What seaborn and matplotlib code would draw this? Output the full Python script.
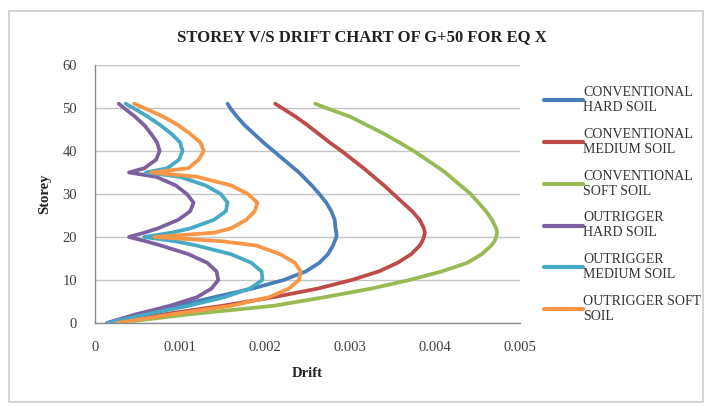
import matplotlib
matplotlib.use("Agg")
import matplotlib.pyplot as plt
from matplotlib.patches import Rectangle
import seaborn as sns
import pandas as pd

# Storey levels at which drift values are listed
storeys = [0, 2, 4, 6, 8, 10, 12, 14, 16, 18, 19, 20, 21, 22, 24, 26, 28, 30,
           32, 34, 35, 36, 38, 40, 42, 44, 46, 48, 50, 51]

conv_hard = [0.00015, 0.0005, 0.00098, 0.0014, 0.00185, 0.00222, 0.00248, 0.00264,
             0.00274, 0.0028, 0.00282, 0.00284, 0.00284, 0.00283, 0.00282, 0.00278,
             0.00272, 0.00264, 0.00255, 0.00245, 0.0024, 0.00234, 0.00222, 0.0021,
             0.00198, 0.00187, 0.00176, 0.00167, 0.00159, 0.00156]
conv_medium = [0.0002, 0.0008, 0.0015, 0.0021, 0.00262, 0.00302, 0.00334, 0.00356,
               0.00372, 0.00382, 0.00385, 0.00387, 0.00388, 0.00387, 0.00382, 0.00373,
               0.00362, 0.00351, 0.0034, 0.00328, 0.00322, 0.00316, 0.00303, 0.0029,
               0.00276, 0.00263, 0.0025, 0.00236, 0.0022, 0.00212]
conv_soft = [0.00025, 0.0011, 0.0021, 0.0027, 0.00325, 0.0037, 0.00408, 0.00438,
             0.00455, 0.00466, 0.0047, 0.00472, 0.00473, 0.00472, 0.00467, 0.0046,
             0.00451, 0.00442, 0.0043, 0.00418, 0.00412, 0.00405, 0.0039, 0.00375,
             0.00358, 0.0034, 0.0032, 0.003, 0.00272, 0.00259]
out_hard = [0.00014, 0.00048, 0.00088, 0.0012, 0.00137, 0.00145, 0.00143, 0.00132,
            0.0011, 0.00078, 0.0006, 0.0004, 0.00058, 0.00074, 0.00098, 0.00112,
            0.00116, 0.00108, 0.00095, 0.00072, 0.0004, 0.00058, 0.00072, 0.00076,
            0.00073, 0.00066, 0.00058, 0.00047, 0.00034, 0.00028]
out_medium = [0.00015, 0.0006, 0.0011, 0.00152, 0.00182, 0.00197, 0.00196, 0.00184,
              0.0016, 0.0012, 0.00095, 0.00058, 0.0009, 0.00112, 0.0014, 0.00154,
              0.00156, 0.00148, 0.0013, 0.001, 0.0006, 0.00085, 0.00099, 0.00103,
              0.001, 0.0009, 0.00077, 0.00062, 0.00045, 0.00036]
out_soft = [0.00026, 0.0009, 0.0016, 0.00205, 0.00228, 0.0024, 0.00242, 0.00235,
            0.00218, 0.0019, 0.0015, 0.0007, 0.0014, 0.0016, 0.00178, 0.00188,
            0.00191, 0.0018, 0.0016, 0.0012, 0.00066, 0.0011, 0.00122, 0.00128,
            0.00124, 0.00112, 0.00098, 0.0008, 0.00058, 0.00046]

series_names = ["CONVENTIONAL\nHARD SOIL", "CONVENTIONAL\nMEDIUM SOIL",
                "CONVENTIONAL\nSOFT SOIL", "OUTRIGGER\nHARD SOIL",
                "OUTRIGGER\nMEDIUM SOIL", "OUTRIGGER SOFT\nSOIL"]
series_values = [conv_hard, conv_medium, conv_soft, out_hard, out_medium, out_soft]
colors = ["#4A7EBB", "#BE4B48", "#98B954", "#7D60A0", "#46AAC5", "#F79646"]

x_ticks = [0, 0.001, 0.002, 0.003, 0.004, 0.005]
x_tick_labels = ["0", "0.001", "0.002", "0.003", "0.004", "0.005"]
y_ticks = [0, 10, 20, 30, 40, 50, 60]

frames = []
for name, vals in zip(series_names, series_values):
    frames.append(pd.DataFrame({"Storey": storeys, "Drift": vals, "series": name}))
df = pd.concat(frames, ignore_index=True)

sns.set_style("white")
plt.rcParams["font.family"] = ["Liberation Serif", "DejaVu Serif"]

fig = plt.figure(figsize=(7.05, 4.07), dpi=100)
fig.patch.set_facecolor("white")
fig.patches.append(Rectangle((9 / 705, 5 / 407), 694 / 705, 391 / 407,
                             transform=fig.transFigure, fill=False,
                             edgecolor="#D0D0D0", linewidth=1.2))

ax = fig.add_axes([95 / 705, 1 - 323 / 407, 425 / 705, 258 / 407])
sns.lineplot(data=df, x="Drift", y="Storey", hue="series", hue_order=series_names,
             palette=colors, sort=False, estimator=None, linewidth=2.7,
             solid_joinstyle="round", solid_capstyle="round",
             ax=ax, legend=True)

ax.set_xlim(0, 0.005)
ax.set_ylim(0, 60)
ax.set_xticks(x_ticks)
ax.set_xticklabels(x_tick_labels)
ax.set_yticks(y_ticks)
ax.yaxis.grid(True, color="#C4C4C4", linewidth=1.0)
ax.set_axisbelow(True)
for side in ["top", "right"]:
    ax.spines[side].set_visible(False)
for side in ["left", "bottom"]:
    ax.spines[side].set_color("#8C8C8C")
    ax.spines[side].set_linewidth(1.0)
ax.tick_params(axis="both", labelsize=10.5, colors="#8C8C8C", labelcolor="#404040",
               length=4, width=1.0, direction="out")
ax.tick_params(axis="x", pad=9)
ax.tick_params(axis="y", pad=9)

ax.set_xlabel("Drift", fontsize=10.5, fontweight="bold", color="#222222", labelpad=9)
ax.set_ylabel("Storey", fontsize=10.5, fontweight="bold", color="#222222", labelpad=8)
fig.text(362 / 705, 1 - 37 / 407, "STOREY V/S DRIFT CHART OF G+50 FOR EQ X",
         ha="center", va="center", fontsize=12, fontweight="bold", color="#222222")

leg = ax.legend(loc="upper left", bbox_to_anchor=(541 / 705, 1 - 83 / 407),
                bbox_transform=fig.transFigure, frameon=False, fontsize=10,
                handlelength=2.8, handletextpad=0.05, labelspacing=1.0,
                borderaxespad=0, borderpad=0.2)
for line in leg.get_lines():
    line.set_linewidth(3.0)
for t in leg.get_texts():
    t.set_color("#333333")

fig.savefig("out.png", dpi=100, facecolor="white")
